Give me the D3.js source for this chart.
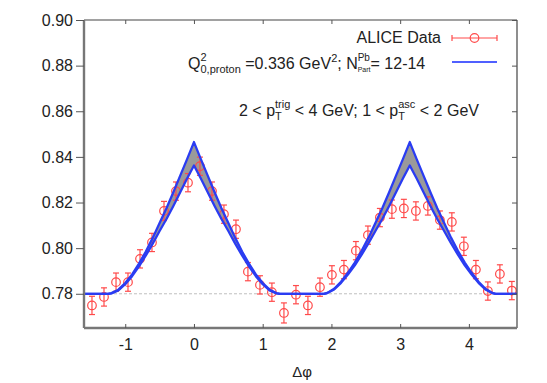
<!DOCTYPE html>
<html>
<head>
<meta charset="utf-8">
<script src="https://cdn.jsdelivr.net/npm/d3@7"></script>
<style>
  html, body { margin: 0; padding: 0; background: #fff; }
  svg { display: block; font-family: "Liberation Sans", Arial, Helvetica, sans-serif; }
</style>
</head>
<body>
<svg id="chart" width="547" height="383"></svg>
<script>
// ALICE data points (bin centres in delta phi)
const dataPhi = [-1.484, -1.309, -1.134, -0.960, -0.785, -0.611, -0.436, -0.262, -0.087,
  0.087, 0.262, 0.436, 0.611, 0.785, 0.960, 1.134, 1.309, 1.484, 1.658, 1.833, 2.007,
  2.182, 2.356, 2.531, 2.705, 2.880, 3.054, 3.229, 3.403, 3.578, 3.752, 3.927, 4.102,
  4.276, 4.451, 4.625];
const dataVal = [0.7749, 0.7786, 0.7851, 0.7851, 0.7953, 0.8025, 0.8163, 0.8250, 0.8287,
  0.8359, 0.8250, 0.8149, 0.8083, 0.7897, 0.7839, 0.7807, 0.7716, 0.7796, 0.7749, 0.7829,
  0.7883, 0.7906, 0.7989, 0.8057, 0.8134, 0.8171, 0.8174, 0.8163, 0.8185, 0.8123, 0.8115,
  0.8008, 0.7906, 0.7812, 0.7887, 0.7814];
const dataErr = [0.0040, 0.0040, 0.0040, 0.0040, 0.0040, 0.0040, 0.0042, 0.0040, 0.0040,
  0.0040, 0.0040, 0.0040, 0.0040, 0.0040, 0.0040, 0.0040, 0.0044, 0.0040, 0.0040, 0.0040,
  0.0040, 0.0040, 0.0040, 0.0040, 0.0040, 0.0040, 0.0040, 0.0040, 0.0040, 0.0040, 0.0040,
  0.0040, 0.0040, 0.0040, 0.0040, 0.0040];

// Model band (upper and lower curves)
const curvePhi = [-1.6, -1.25, -1.2, -1.1, -1.0, -0.9, -0.8, -0.7, -0.6, -0.5, -0.4, -0.3,
  -0.2, -0.1, 0, 0.1, 0.2, 0.3, 0.4, 0.5, 0.6, 0.7, 0.8, 0.9, 1.0, 1.1, 1.2, 1.25,
  1.89, 1.94, 2.04, 2.14, 2.24, 2.34, 2.44, 2.54, 2.64, 2.74, 2.84, 2.94, 3.04, 3.14,
  3.24, 3.34, 3.44, 3.54, 3.64, 3.74, 3.84, 3.94, 4.04, 4.14, 4.24, 4.34, 4.39, 4.7];
const curveUpper = [0.780, 0.780, 0.7803, 0.7818, 0.7847, 0.7885, 0.7932, 0.7985, 0.8045,
  0.8110, 0.8175, 0.8245, 0.8318, 0.8390, 0.8465, 0.8390, 0.8318, 0.8245, 0.8175, 0.8110,
  0.8045, 0.7985, 0.7932, 0.7885, 0.7847, 0.7818, 0.7803, 0.780,
  0.780, 0.7804, 0.7822, 0.7853, 0.7892, 0.7937, 0.7988, 0.8046, 0.8110, 0.8175, 0.8245,
  0.8318, 0.8390, 0.8465, 0.8390, 0.8318, 0.8245, 0.8175, 0.8110, 0.8046, 0.7988, 0.7937,
  0.7892, 0.7853, 0.7822, 0.7804, 0.780, 0.780];
const curveLower = [0.780, 0.780, 0.7802, 0.7815, 0.7842, 0.7877, 0.7920, 0.7968, 0.8020,
  0.8075, 0.8128, 0.8185, 0.8245, 0.8305, 0.8362, 0.8305, 0.8245, 0.8185, 0.8128, 0.8075,
  0.8020, 0.7968, 0.7920, 0.7877, 0.7842, 0.7815, 0.7802, 0.780,
  0.780, 0.7803, 0.7819, 0.7848, 0.7884, 0.7925, 0.7972, 0.8022, 0.8075, 0.8128, 0.8185,
  0.8245, 0.8305, 0.8362, 0.8305, 0.8245, 0.8185, 0.8128, 0.8075, 0.8022, 0.7972, 0.7925,
  0.7884, 0.7848, 0.7819, 0.7803, 0.780, 0.780];

const baseline = 0.78;
const xTicks = [-1, 0, 1, 2, 3, 4];
const yTicks = [0.78, 0.80, 0.82, 0.84, 0.86, 0.88, 0.90];

const RED = '#ff4a4a';
const BLUE = '#2a3cf2';

const margin = { top: 20, right: 30, bottom: 55, left: 84 };
const width = 547 - margin.left - margin.right;
const height = 383 - margin.top - margin.bottom;

const svg = d3.select('#chart');
const g = svg.append('g').attr('transform', `translate(${margin.left},${margin.top})`);

const x = d3.scaleLinear().domain([-1.6, 4.7]).range([0, width]);
const y = d3.scaleLinear().domain([0.765, 0.90]).range([height, 0]);

// Dashed baseline
g.append('line')
  .attr('x1', 0).attr('x2', width)
  .attr('y1', y(baseline)).attr('y2', y(baseline))
  .attr('stroke', '#b0b0b0')
  .attr('stroke-width', 0.8)
  .attr('stroke-dasharray', '3,2');

const band = curvePhi.map((p, i) => ({ p, hi: curveUpper[i], lo: curveLower[i] }));

// Grey band between curves
g.append('path')
  .datum(band)
  .attr('fill', '#9a9a9a')
  .attr('d', d3.area().x(d => x(d.p)).y0(d => y(d.lo)).y1(d => y(d.hi)));

// Data points with error bars
const pts = g.append('g').attr('stroke', RED).attr('fill', 'none').attr('stroke-width', 1.2);
dataPhi.forEach((p, i) => {
  const cx = x(p);
  const yTop = y(dataVal[i] + dataErr[i]);
  const yBot = y(dataVal[i] - dataErr[i]);
  pts.append('line').attr('x1', cx).attr('x2', cx).attr('y1', yTop).attr('y2', yBot);
  pts.append('line').attr('x1', cx - 3).attr('x2', cx + 3).attr('y1', yTop).attr('y2', yTop);
  pts.append('line').attr('x1', cx - 3).attr('x2', cx + 3).attr('y1', yBot).attr('y2', yBot);
  pts.append('circle').attr('cx', cx).attr('cy', y(dataVal[i])).attr('r', 4.3);
});

// Blue model curves
const line = d3.line().x(d => x(d[0])).y(d => y(d[1]));
[curveUpper, curveLower].forEach((vals) => {
  g.append('path')
    .datum(curvePhi.map((p, i) => [p, vals[i]]))
    .attr('fill', 'none')
    .attr('stroke', BLUE)
    .attr('stroke-width', 2.3)
    .attr('stroke-linejoin', 'round')
    .attr('d', line);
});

// Frame
g.append('line').attr('x1', 0).attr('x2', width).attr('y1', 0).attr('y2', 0)
  .attr('stroke', '#444').attr('stroke-width', 1.2);
g.append('line').attr('x1', width).attr('x2', width).attr('y1', 0).attr('y2', height)
  .attr('stroke', '#444').attr('stroke-width', 1.2);
g.append('line').attr('x1', 0).attr('x2', 0).attr('y1', 0).attr('y2', height)
  .attr('stroke', '#777').attr('stroke-width', 2.4);
g.append('line').attr('x1', 0).attr('x2', width).attr('y1', height).attr('y2', height)
  .attr('stroke', '#777').attr('stroke-width', 2.4);

// Axes
const yAxis = g.append('g')
  .call(d3.axisLeft(y).tickValues(yTicks).tickFormat(d3.format('.2f')).tickSize(8).tickPadding(3));
const xAxis = g.append('g')
  .attr('transform', `translate(0,${height})`)
  .call(d3.axisBottom(x).tickValues(xTicks).tickFormat(d => (d < 0 ? `-${-d}` : d)).tickSize(-4).tickPadding(11));
const topAxis = g.append('g')
  .call(d3.axisTop(x).tickValues(xTicks).tickFormat('').tickSize(-4));
const rightAxis = g.append('g')
  .attr('transform', `translate(${width},0)`)
  .call(d3.axisRight(y).tickValues(yTicks).tickFormat('').tickSize(-5));

[yAxis, xAxis, topAxis, rightAxis].forEach((a) => {
  a.select('.domain').remove();
  a.selectAll('.tick line').attr('stroke', '#555').attr('stroke-width', 1);
  a.selectAll('text')
    .attr('fill', '#222')
    .style('font-family', '"Liberation Sans", Arial, sans-serif')
    .style('font-size', '16px');
});

// Axis title
svg.append('text')
  .attr('x', 302).attr('y', 377)
  .attr('text-anchor', 'middle')
  .attr('fill', '#222')
  .style('font-size', '15px')
  .text('Δφ');

// Rich text helper: pieces laid out left to right, stacked sup/sub share x
function richText(x0, yBase, pieces) {
  let cx = x0;
  pieces.forEach((pc) => {
    if (pc.stack) {
      let w = 0;
      pc.stack.forEach((s) => {
        const t = svg.append('text')
          .attr('x', cx).attr('y', yBase + s.dy)
          .attr('fill', '#222')
          .style('font-size', `${s.size}px`)
          .text(s.t);
        w = Math.max(w, t.node().getComputedTextLength());
      });
      cx += w;
    } else {
      const t = svg.append('text')
        .attr('x', cx).attr('y', yBase)
        .attr('fill', '#222')
        .style('font-size', '16px')
        .attr('xml:space', 'preserve')
        .style('white-space', 'pre')
        .text(pc.t);
      cx += t.node().getComputedTextLength();
    }
  });
}

// Legend
svg.append('text')
  .attr('x', 441).attr('y', 43)
  .attr('text-anchor', 'end')
  .attr('fill', '#222')
  .style('font-size', '16px')
  .text('ALICE Data');

const lg = svg.append('g').attr('stroke', RED).attr('fill', 'none').attr('stroke-width', 1.2);
lg.append('line').attr('x1', 452).attr('x2', 497).attr('y1', 38).attr('y2', 38);
lg.append('line').attr('x1', 452).attr('x2', 452).attr('y1', 35).attr('y2', 41);
lg.append('line').attr('x1', 497).attr('x2', 497).attr('y1', 35).attr('y2', 41);
lg.append('circle').attr('cx', 474.5).attr('cy', 38).attr('r', 4.3);

richText(188, 69, [
  { t: 'Q' },
  { stack: [{ t: '2', size: 11, dy: -8 }, { t: '0,proton', size: 11, dy: 4 }] },
  { t: ' =0.336 GeV' },
  { stack: [{ t: '2', size: 11, dy: -7 }] },
  { t: '; N' },
  { stack: [{ t: 'Pb', size: 10, dy: -8 }, { t: 'Part', size: 7, dy: 3 }] },
  { t: '= 12-14' }
]);

svg.append('line')
  .attr('x1', 452).attr('x2', 497).attr('y1', 62).attr('y2', 62)
  .attr('stroke', '#5060ff').attr('stroke-width', 2.2);

richText(239, 116, [
  { t: '2 < p' },
  { stack: [{ t: 'trig', size: 11, dy: -8 }, { t: 'T', size: 11, dy: 4 }] },
  { t: ' < 4 GeV; 1 < p' },
  { stack: [{ t: 'asc', size: 11, dy: -8 }, { t: 'T', size: 11, dy: 4 }] },
  { t: ' < 2 GeV' }
]);
</script>
</body>
</html>
